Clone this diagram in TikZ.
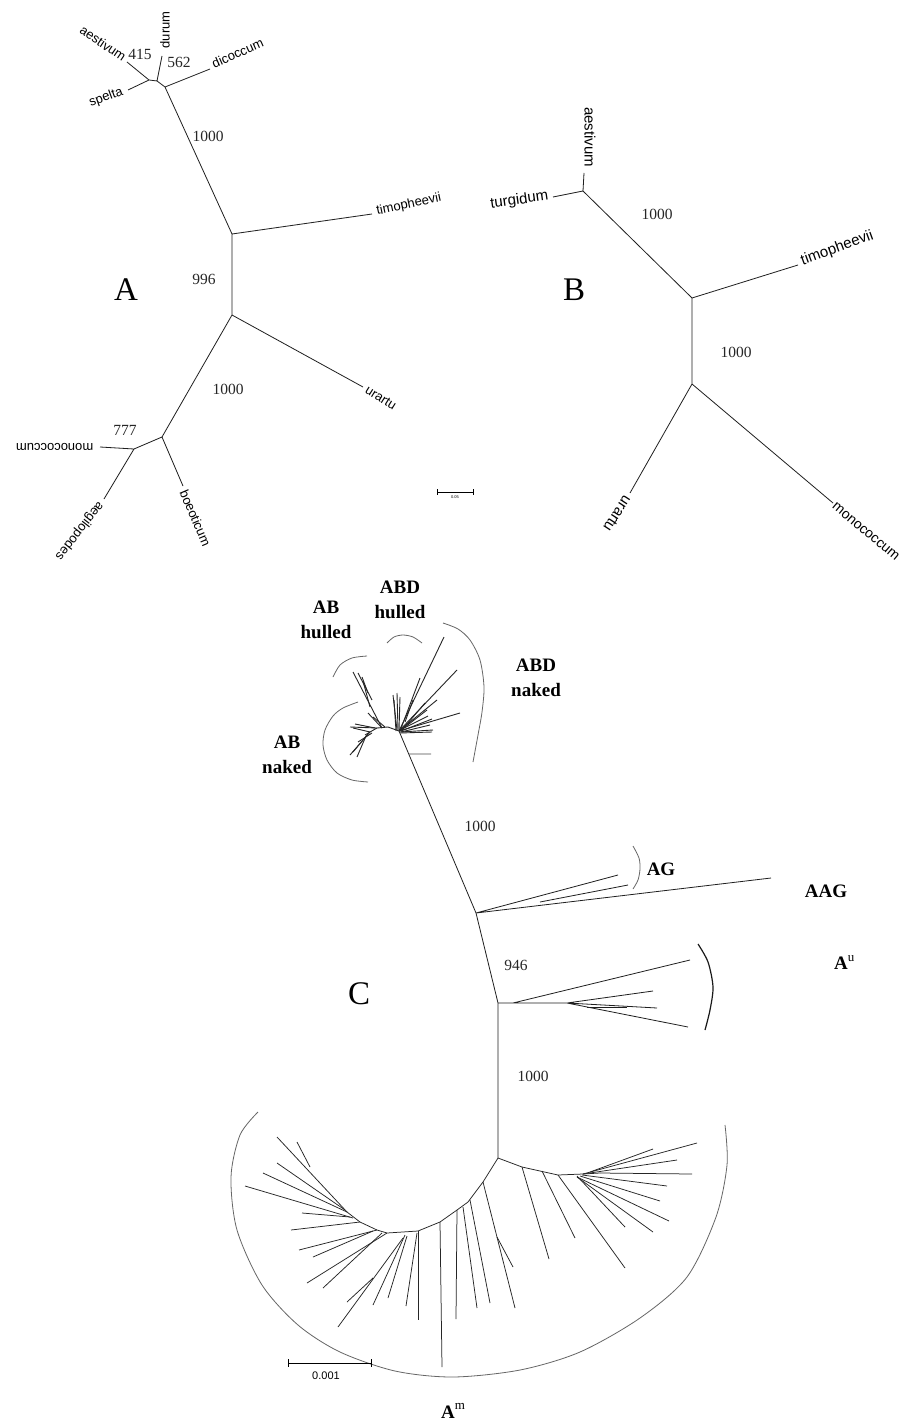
\documentclass[tikz,border=0pt]{standalone}
\usepackage{fontspec}
\setmainfont{Liberation Serif}
\newfontfamily\mysansf{Liberation Sans}
\usetikzlibrary{calc}
\newcommand\myspA{\mysansf\fontsize{13}{14}\selectfont}
\newcommand\myspB{\mysansf\fontsize{15}{16}\selectfont}
\newcommand\mynumf{\fontsize{15.5}{16}\selectfont}
\newcommand\mybigf{\fontsize{33}{34}\selectfont}
\newcommand\mycladef{\bfseries\fontsize{19}{25}\selectfont}
\tikzset{
  br/.style={draw=black!88, line width=0.8pt},
  fan/.style={draw=black!85, line width=0.75pt},
  spA/.style={font=\myspA, inner sep=1.5pt},
  spB/.style={font=\myspB, inner sep=1.5pt},
  boot/.style={font=\mynumf, inner sep=0pt, text=black!85},
  bigl/.style={font=\mybigf, inner sep=0pt},
  clade/.style={font=\mycladef, align=center, inner sep=0pt},
  brk/.style={draw=black!60, line width=0.8pt},
}
\begin{document}
\begin{tikzpicture}[x=1pt,y=-1pt]
\useasboundingbox (0,0) rectangle (905,1420);
\fill[white] (0,0) rectangle (905,1420);

% ================= Tree A =================
\coordinate (aA) at (149,80);
\coordinate (aB) at (157,81);
\coordinate (aC) at (165,87);
\coordinate (aN1) at (232,234);
\coordinate (aN2) at (232,315);
\coordinate (aN3) at (162,437);
\coordinate (aN4) at (134,449);
\coordinate (tAest) at (127,62);
\coordinate (tSpel) at (128,90);
\coordinate (tDur) at (162,56);
\coordinate (tDic) at (210,69);
\coordinate (tTimA) at (372,214);
\coordinate (tUraA) at (363,387);
\coordinate (tMonA) at (100,447);
\coordinate (tAeg) at (104,499);
\coordinate (tBoe) at (183,486);
\draw[br] (tAest)--(aA)--(tSpel) (aA)--(aB)--(tDur) (aB)--(aC)--(tDic)
  (aC)--(aN1)--(tTimA) (aN1)--(aN2)--(tUraA) (aN2)--(aN3)--(aN4)--(tMonA)
  (aN4)--(tAeg) (aN3)--(tBoe);
\node[spA, anchor=east, rotate=-34] (lAestA) at (126,59) {aestivum};
\node[spA, anchor=east, rotate=20] (lSpel) at (124,91) {spelta};
\node[spA, anchor=west, rotate=90] (lDur) at (165,50) {durum};
\node[spA, anchor=west, rotate=24] (lDic) at (211,65) {dicoccum};
\node[spA, anchor=west, rotate=12] (lTimA) at (375,212) {timopheevii};
\node[spA, anchor=west, rotate=-32] (lUraA) at (365,388) {urartu};
\node[spA, anchor=west, rotate=180] (lMonA) at (95,447) {monococcum};
\node[spA, anchor=west, rotate=-128] (lAeg) at (102,502) {aegilopodes};
\node[spA, anchor=west, rotate=-67] (lBoe) at (183,489) {boeoticum};
\node[boot] (b415) at (140,54) {415};
\node[boot] (b562) at (179,62) {562};
\node[boot] (bA1) at (208,136) {1000};
\node[boot] (b996) at (204,279) {996};
\node[boot] (bA2) at (228,389) {1000};
\node[boot] (b777) at (125,430) {777};
\node[bigl] (LA) at (126,290) {A};
% scale bar A
\coordinate (sA1) at (437,492);
\coordinate (sA2) at (473,492);
\draw[line width=0.7pt] (sA1)--(sA2) ($(sA1)+(0,-3)$)--($(sA1)+(0,3)$) ($(sA2)+(0,-3)$)--($(sA2)+(0,3)$);
\node[font=\mysansf\fontsize{4}{4}\selectfont, inner sep=0pt] (sAl) at (455,497.5) {0.05};

% ================= Tree B =================
\coordinate (bJ) at (583,191);
\coordinate (bN1) at (692,298);
\coordinate (bN2) at (692,384);
\coordinate (tTurg) at (553,197);
\coordinate (tAestB) at (584,173);
\coordinate (tTimB) at (798,265);
\coordinate (tUraB) at (630,493);
\coordinate (tMonB) at (833,503);
\draw[br] (tTurg)--(bJ)--(tAestB) (bJ)--(bN1)--(tTimB) (bN1)--(bN2)--(tUraB) (bN2)--(tMonB);
\node[spB, anchor=east, rotate=8] (lTurg) at (550,196) {turgidum};
\node[spB, anchor=east, rotate=-90] (lAestB) at (590,169) {aestivum};
\node[spB, anchor=west, rotate=20] (lTimB) at (800,262) {timopheevii};
\node[spB, anchor=west, rotate=-123] (lUraB) at (629,496) {urartu};
\node[spB, anchor=west, rotate=-40, font=\mysansf\fontsize{14}{15}\selectfont, inner sep=1pt] (lMonB) at (833,504) {monococcum};
\node[boot] (bB1) at (657,214) {1000};
\node[boot] (bB2) at (736,352) {1000};
\node[bigl] (LB) at (574,290) {B};

% ================= Tree C =================
\coordinate (cR) at (399,731);
\coordinate (cG) at (476,913);
\coordinate (cU) at (498,1003);
\coordinate (cM) at (498,1158);
\draw[br] (cR)--(cG)--(cU)--(cM);
\coordinate (cS) at ($(cR)!0.126!(cG)$);
\coordinate (cSt) at (431,754);
\draw[br, draw=black!70] (cS)--(cSt);

% crown (AB / ABD)
\draw[fan, line width=0.9pt] (cR)--(388,727)--(377,728)--(370,732)--(365,735);
\foreach \xa/\ya/\xb/\yb in {
  382/728/353/672, 358/673/372/700, 362/677/368/693, 363/681/370/707,
  382/728/368/713, 385/727/373/717, 377/728/350/727, 375/728/355/724,
  370/732/353/728, 370/732/350/755, 368/734/353/752, 372/733/358/742,
  366/736/357/757, 397/730/393/695, 398/730/397/693, 399/730/400/697,
  399/731/444/637, 399/731/457/670, 399/731/460/713, 399/731/437/700,
  400/731/427/710, 400/732/433/730, 400/731/420/678, 401/731/432/719,
  401/732/430/725, 405/722/413/700, 402/730/425/703, 400/733/432/732,
  396/731/394/700, 404/728/428/716}
  \draw[fan, line width=0.9pt] (\xa,\ya)--(\xb,\yb);

% AG / AAG
\coordinate (tAAG) at (771,878);
\coordinate (tAG1) at (618,875);
\coordinate (tAG2) at (628,885);
\coordinate (cG2) at (540,902);
\draw[br] (cG)--(tAAG) (cG)--(tAG1) (cG2)--(tAG2);

% Au
\coordinate (u0) at (513,1003);
\coordinate (u1) at (567,1003);
\draw[br] (cU)--(u1)--(653,991) (u0)--(690,960) (u1)--(657,1008) (u1)--(688,1027);
\draw[br] (587,1007)--(627,1007);

% Am fan
\draw[fan] (cM)--(483,1182)--(468,1202)--(457,1210)--(440,1222)--(418,1231)--(387,1233)--(377,1230)--(360,1222)--(347,1212);
\draw[fan] (cM)--(522,1167)--(558,1175)--(583,1174)--(600,1173);
\foreach \xa/\ya/\xb/\yb in {
  483/1182/515/1308, 497/1237/513/1267, 470/1200/490/1303, 463/1207/477/1308,
  457/1210/456/1319, 440/1222/442/1367, 418/1231/418/1320, 417/1233/406/1306,
  407/1236/388/1298, 405/1235/373/1305, 403/1238/338/1327, 373/1278/347/1302,
  387/1233/307/1283, 382/1233/323/1288, 377/1230/299/1250, 373/1231/313/1257,
  360/1222/291/1230, 350/1217/302/1213, 353/1218/245/1186, 347/1212/263/1173,
  345/1210/277/1163, 347/1212/277/1137, 310/1167/297/1142,
  522/1167/549/1259, 542/1171/575/1238, 558/1175/625/1268, 577/1176/625/1227,
  577/1177/653/1232, 577/1177/669/1221, 580/1176/660/1201, 582/1175/667/1186,
  600/1173/692/1174, 583/1174/677/1160, 590/1172/653/1149, 583/1174/697/1143}
  \draw[fan] (\xa,\ya)--(\xb,\yb);

% brackets
\draw[brk] plot[smooth] coordinates {(333,677)(340,665)(352,658)(367,656)};
\draw[brk] plot[smooth] coordinates {(387,643)(394,637)(403,635)(413,637)(422,643)};
\draw[brk] plot[smooth] coordinates {(443,623)(458,629)(470,640)(480,660)(484,687)(482,712)(478,735)(473,762)};
\draw[brk] plot[smooth] coordinates {(358,702)(343,708)(333,716)(325,730)(323,745)(327,760)(337,773)(352,780)(368,782)};
\draw[brk] plot[smooth] coordinates {(633,846)(639,858)(640,869)(638,880)(633,889)};
\draw[brk, draw=black!90, line width=1.2pt] plot[smooth] coordinates {(698,944)(708,962)(713,987)(710,1010)(705,1030)};
\draw[brk] plot[smooth] coordinates {(258,1112)(240,1135)(231,1177)(237,1230)(262,1285)(298,1325)(340,1352)(395,1371)(453,1377)(520,1370)(580,1352)(640,1318)(687,1277)(716,1217)(727,1165)(725,1125)};

% labels C
\node[clade] (lABh) at (326,620) {AB\\hulled};
\node[clade] (lABDh) at (400,600) {ABD\\hulled};
\node[clade] (lABDn) at (536,678) {ABD\\naked};
\node[clade] (lABn) at (287,755) {AB\\naked};
\node[clade] (lAG) at (661,869) {AG};
\node[clade] (lAAG) at (826,891) {AAG};
\node[clade, anchor=base west] (lAu) at (834,969) {A\raisebox{8pt}{\normalfont\fontsize{13}{13}\selectfont u}};
\node[clade, anchor=base west] (lAm) at (441,1418) {A\raisebox{9pt}{\normalfont\fontsize{13}{13}\selectfont m}};
\node[boot] (bC1) at (480,826) {1000};
\node[boot] (bC2) at (516,965) {946};
\node[boot] (bC3) at (533,1076) {1000};
\node[bigl] (LC) at (359,994) {C};
% scale bar C
\coordinate (sC1) at (288,1363);
\coordinate (sC2) at (371,1363);
\draw[line width=0.8pt] (sC1)--(sC2) ($(sC1)+(0,-4)$)--($(sC1)+(0,4)$) ($(sC2)+(0,-4)$)--($(sC2)+(0,4)$);
\node[font=\mysansf\fontsize{11}{11}\selectfont, inner sep=0pt] (sCl) at (326,1376) {0.001};
\end{tikzpicture}
\end{document}
